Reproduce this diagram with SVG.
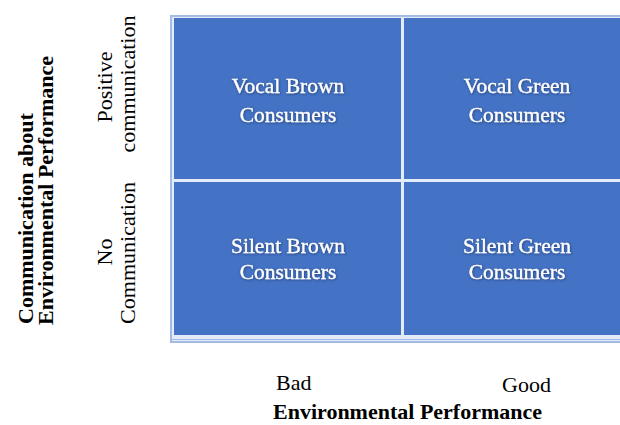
<svg xmlns="http://www.w3.org/2000/svg" width="620" height="425" viewBox="0 0 620 425">
<defs>
<filter id="sh" x="-10%" y="-20%" width="120%" height="140%">
<feDropShadow dx="0.6" dy="0.8" stdDeviation="0.8" flood-color="#1c2f5a" flood-opacity="0.7"/>
</filter>
</defs>
<style>
.cell{fill:#4472C4}
.ct{font-family:"Liberation Serif",serif;font-size:21.5px;fill:#ffffff;stroke:#ffffff;stroke-width:0.3;text-anchor:middle}
.lb{font-family:"Liberation Serif",serif;font-size:22px;fill:#000000}
.bd{font-family:"Liberation Serif",serif;font-size:22px;font-weight:bold;fill:#000000}
</style>
<rect x="170" y="15" width="460" height="328" fill="#a4bbe5"/>
<rect x="172" y="17" width="458" height="322" fill="#e4ebf8"/>
<g id="connectors">
<line x1="172" y1="340.5" x2="620" y2="340.5" stroke="#e4ebf8" stroke-width="1"/>
</g>
<g id="vocal-brown">
<rect class="cell" x="174" y="18" width="227" height="161"/>
<text class="ct" filter="url(#sh)" x="288" y="93">Vocal Brown</text>
<text class="ct" filter="url(#sh)" x="288" y="122">Consumers</text>
</g>
<g id="vocal-green">
<rect class="cell" x="404" y="18" width="220" height="161"/>
<text class="ct" filter="url(#sh)" x="517" y="93">Vocal Green</text>
<text class="ct" filter="url(#sh)" x="517" y="122">Consumers</text>
</g>
<g id="silent-brown">
<rect class="cell" x="174" y="182" width="227" height="153"/>
<text class="ct" filter="url(#sh)" x="288" y="253">Silent Brown</text>
<text class="ct" filter="url(#sh)" x="288" y="279">Consumers</text>
</g>
<g id="silent-green">
<rect class="cell" x="404" y="182" width="220" height="153"/>
<text class="ct" filter="url(#sh)" x="517" y="253">Silent Green</text>
<text class="ct" filter="url(#sh)" x="517" y="279">Consumers</text>
</g>
<g id="y-axis-title">
<text class="bd" transform="translate(33,324) rotate(-90)">Communication about</text>
<text class="bd" transform="translate(53,325) rotate(-90)">Environmental Performance</text>
</g>
<g id="y-labels">
<text class="lb" text-anchor="middle" transform="translate(112,87) rotate(-90)">Positive</text>
<text class="lb" text-anchor="middle" transform="translate(135,84) rotate(-90)">communication</text>
<text class="lb" text-anchor="middle" transform="translate(112,252) rotate(-90)">No</text>
<text class="lb" text-anchor="middle" transform="translate(135,253) rotate(-90)">Communication</text>
</g>
<g id="x-labels">
<text class="lb" x="276" y="390">Bad</text>
<text class="lb" x="502" y="392">Good</text>
</g>
<g id="x-axis-title">
<text class="bd" x="273" y="419">Environmental Performance</text>
</g>
</svg>
